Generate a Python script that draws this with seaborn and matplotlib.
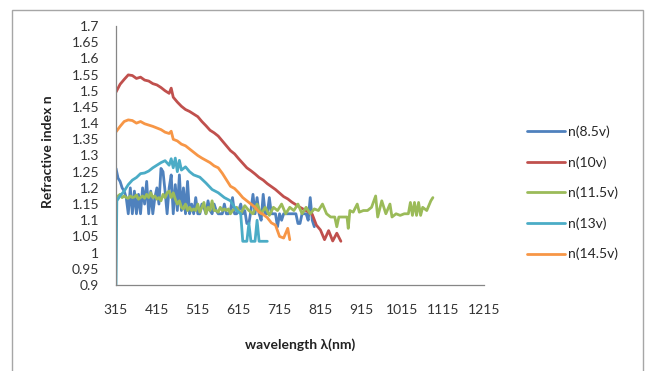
import numpy as np
import pandas as pd
import matplotlib
matplotlib.use("Agg")
import matplotlib.pyplot as plt
from matplotlib.patches import Rectangle
import seaborn as sns

# ---------------- data ----------------
series_names = ["n(8.5v)", "n(10v)", "n(11.5v)", "n(13v)", "n(14.5v)"]
series_colors = ["#4F81BD", "#C0504D", "#9BBB59", "#4BACC6", "#F79646"]

wl_85 = [315, 320, 325, 330, 335, 340, 345, 350, 355, 360, 365, 370, 375, 380, 385, 390,
         395, 400, 405, 410, 415, 420, 425, 430, 435, 440, 445, 450, 455, 460, 465, 470,
         475, 480, 485, 490, 495, 500, 505, 510, 515, 520, 525, 530, 535, 540, 545, 550,
         555, 560, 565, 570, 575, 580, 585, 590, 595, 600, 605, 610, 615, 620, 625, 630,
         635, 640, 645, 650, 655, 660, 665, 670, 675, 680, 685, 690, 695, 700, 705, 710,
         715, 720, 725, 730, 735, 740, 745, 750, 755, 760, 765, 770, 775, 780, 785, 790,
         795, 800]
n_85 = [1.26, 1.23, 1.22, 1.20, 1.19, 1.17, 1.12, 1.20, 1.12, 1.19, 1.12, 1.18, 1.12, 1.20, 1.15, 1.22,
        1.12, 1.19, 1.12, 1.17, 1.20, 1.15, 1.26, 1.25, 1.19, 1.12, 1.20, 1.24, 1.12, 1.21, 1.13, 1.24,
        1.13, 1.20, 1.12, 1.22, 1.12, 1.15, 1.12, 1.17, 1.12, 1.12, 1.15, 1.14, 1.12, 1.16, 1.13, 1.12,
        1.15, 1.13, 1.12, 1.12, 1.12, 1.15, 1.12, 1.12, 1.13, 1.17, 1.12, 1.12, 1.13, 1.15, 1.12, 1.13,
        1.09, 1.09, 1.13, 1.18, 1.12, 1.17, 1.12, 1.10, 1.18, 1.12, 1.12, 1.17, 1.12, 1.12, 1.12, 1.08,
        1.12, 1.10, 1.12, 1.12, 1.12, 1.12, 1.12, 1.12, 1.12, 1.09, 1.09, 1.12, 1.12, 1.12, 1.10, 1.17,
        1.10, 1.08]

wl_10 = [315, 325, 335, 345, 355, 365, 375, 385, 395, 405, 415, 425, 435, 445, 450, 455,
         465, 475, 485, 495, 505, 515, 525, 535, 545, 555, 565, 575, 585, 595, 605, 615,
         625, 635, 645, 655, 665, 675, 685, 695, 705, 715, 725, 735, 745, 755, 765, 775,
         785, 795, 805, 815, 825, 835, 845, 855, 865]
n_10 = [1.496, 1.520, 1.535, 1.549, 1.547, 1.538, 1.542, 1.533, 1.530, 1.522, 1.518, 1.510, 1.500, 1.492, 1.508, 1.480,
        1.465, 1.452, 1.442, 1.436, 1.428, 1.420, 1.405, 1.392, 1.378, 1.370, 1.360, 1.345, 1.330, 1.315, 1.305, 1.290,
        1.276, 1.262, 1.253, 1.243, 1.232, 1.224, 1.213, 1.204, 1.195, 1.184, 1.173, 1.166, 1.156, 1.148, 1.140, 1.133,
        1.126, 1.118, 1.085, 1.070, 1.040, 1.068, 1.036, 1.060, 1.035]

wl_115 = [315, 320, 325, 330, 335, 340, 345, 350, 355, 360, 365, 370, 375, 380, 385, 390,
          395, 400, 405, 410, 415, 420, 425, 430, 435, 440, 445, 450, 455, 460, 465, 470,
          475, 480, 485, 490, 495, 500, 505, 510, 515, 520, 525, 530, 535, 540, 545, 550,
          555, 560, 565, 570, 575, 580, 585, 590, 595, 600, 610, 620, 630, 640, 650, 660,
          670, 680, 690, 700, 710, 720, 730, 740, 750, 760, 770, 780, 790, 800, 810, 820,
          830, 840, 850, 855, 860, 870, 880, 883, 887, 895, 905, 910, 920, 930, 940, 950,
          955, 965, 975, 985, 990, 1000, 1010, 1020, 1030, 1035, 1040, 1045, 1050, 1055, 1060, 1065,
          1075, 1085, 1090]
n_115 = [1.170, 1.175, 1.180, 1.170, 1.175, 1.170, 1.168, 1.175, 1.170, 1.172, 1.178, 1.165, 1.170, 1.175, 1.168, 1.180,
         1.170, 1.185, 1.170, 1.175, 1.165, 1.170, 1.160, 1.180, 1.170, 1.185, 1.190, 1.170, 1.185, 1.165, 1.150, 1.160,
         1.140, 1.135, 1.150, 1.130, 1.140, 1.130, 1.135, 1.130, 1.150, 1.125, 1.140, 1.155, 1.120, 1.140, 1.130, 1.160,
         1.130, 1.130, 1.125, 1.140, 1.130, 1.135, 1.130, 1.135, 1.120, 1.130, 1.140, 1.120, 1.145, 1.130, 1.120, 1.150,
         1.120, 1.140, 1.115, 1.140, 1.130, 1.150, 1.120, 1.140, 1.130, 1.150, 1.120, 1.140, 1.120, 1.135, 1.130, 1.150,
         1.120, 1.110, 1.110, 1.080, 1.110, 1.110, 1.110, 1.075, 1.130, 1.125, 1.150, 1.125, 1.130, 1.130, 1.140, 1.175,
         1.110, 1.160, 1.120, 1.150, 1.110, 1.120, 1.115, 1.120, 1.120, 1.155, 1.115, 1.155, 1.115, 1.155, 1.115, 1.140,
         1.130, 1.160, 1.170]

wl_13 = [315, 317, 325, 335, 345, 355, 365, 375, 385, 395, 405, 415, 425, 435, 445, 450,
         455, 460, 465, 470, 475, 485, 495, 505, 520, 535, 550, 565, 580, 595, 610, 620,
         625, 635, 640, 645, 655, 660, 665, 675, 685]
n_13 = [0.900, 1.160, 1.175, 1.190, 1.210, 1.224, 1.232, 1.244, 1.246, 1.252, 1.262, 1.270, 1.278, 1.284, 1.270, 1.290,
        1.262, 1.292, 1.250, 1.285, 1.255, 1.265, 1.250, 1.240, 1.233, 1.215, 1.195, 1.185, 1.170, 1.160, 1.130, 1.120,
        1.035, 1.035, 1.090, 1.035, 1.035, 1.100, 1.035, 1.035, 1.035]

wl_145 = [315, 325, 335, 345, 355, 365, 375, 385, 395, 405, 415, 425, 435, 445, 450, 455,
          465, 475, 485, 495, 505, 515, 525, 535, 545, 555, 565, 575, 585, 595, 605, 615,
          625, 635, 645, 655, 665, 675, 685, 695, 705, 715, 725, 735, 740]
n_145 = [1.373, 1.390, 1.405, 1.410, 1.408, 1.400, 1.405, 1.398, 1.394, 1.390, 1.385, 1.380, 1.372, 1.368, 1.375, 1.350,
         1.345, 1.335, 1.330, 1.320, 1.310, 1.300, 1.292, 1.285, 1.278, 1.268, 1.262, 1.245, 1.225, 1.205, 1.198, 1.185,
         1.170, 1.160, 1.150, 1.140, 1.125, 1.118, 1.108, 1.092, 1.085, 1.050, 1.045, 1.075, 1.040]

x_ticks = [315, 415, 515, 615, 715, 815, 915, 1015, 1115, 1215]
y_ticks = [0.9, 0.95, 1.0, 1.05, 1.1, 1.15, 1.2, 1.25, 1.3, 1.35, 1.4, 1.45, 1.5, 1.55, 1.6, 1.65, 1.7]
y_tick_labels = ["0.9", "0.95", "1", "1.05", "1.1", "1.15", "1.2", "1.25", "1.3", "1.35",
                 "1.4", "1.45", "1.5", "1.55", "1.6", "1.65", "1.7"]
x_label = "wavelength λ(nm)"
y_label = "Refractive index n"

# ---------------- build table ----------------
frames = []
for name, wl, n in zip(series_names,
                       [wl_85, wl_10, wl_115, wl_13, wl_145],
                       [n_85, n_10, n_115, n_13, n_145]):
    frames.append(pd.DataFrame({"wavelength": wl, "n": n, "series": name}))
df = pd.concat(frames, ignore_index=True)

# ---------------- plot ----------------
sns.set_theme(style="white")
plt.rcParams["font.family"] = ["Lato", "DejaVu Sans"]

fig = plt.figure(figsize=(6.5, 3.71), dpi=100)
ax = fig.add_axes([116 / 650, 1 - 285 / 371, (484 - 116) / 650, (285 - 26) / 371])

sns.lineplot(data=df, x="wavelength", y="n", hue="series", hue_order=series_names,
             palette=series_colors, sort=False, estimator=None, linewidth=2.0, ax=ax)

ax.set_xlim(315, 1215)
ax.set_ylim(0.9, 1.7)
ax.set_xticks(x_ticks)
ax.set_xticklabels([str(t) for t in x_ticks])
ax.set_yticks(y_ticks)
ax.set_yticklabels(y_tick_labels)
ax.tick_params(axis="both", which="major", labelsize=10, colors="#333333",
               direction="out", length=4, width=0.8, color="#868686")
ax.tick_params(axis="y", pad=8)
ax.tick_params(axis="x", pad=10)

for side in ["top", "right"]:
    ax.spines[side].set_visible(False)
for side in ["left", "bottom"]:
    ax.spines[side].set_color("#868686")
    ax.spines[side].set_linewidth(0.9)

ax.set_xlabel("")
ax.set_ylabel("")
fig.text(300 / 650, 1 - 345 / 371, x_label, ha="center", va="center",
         fontsize=10, fontweight="bold", color="#222222")
fig.text(48 / 650, 1 - 152 / 371, y_label, ha="center", va="center", rotation=90,
         fontsize=10, fontweight="bold", color="#222222")

handles, labels = ax.get_legend_handles_labels()
ax.legend_.remove() if ax.legend_ is not None else None
fig.legend(handles, labels, loc="center left", bbox_to_anchor=(527 / 650, 1 - 193 / 371),
           bbox_transform=fig.transFigure, frameon=False, fontsize=10,
           handlelength=2.7, handletextpad=0.25, labelspacing=1.3, borderpad=0,
           borderaxespad=0)

fig.patches.append(Rectangle((12 / 650, -0.05), (643 - 12) / 650, (1 - 10 / 371) + 0.05,
                             transform=fig.transFigure, fill=False,
                             edgecolor="#A6A6A6", linewidth=1.0))

fig.savefig("out.png", dpi=100, facecolor="white")
